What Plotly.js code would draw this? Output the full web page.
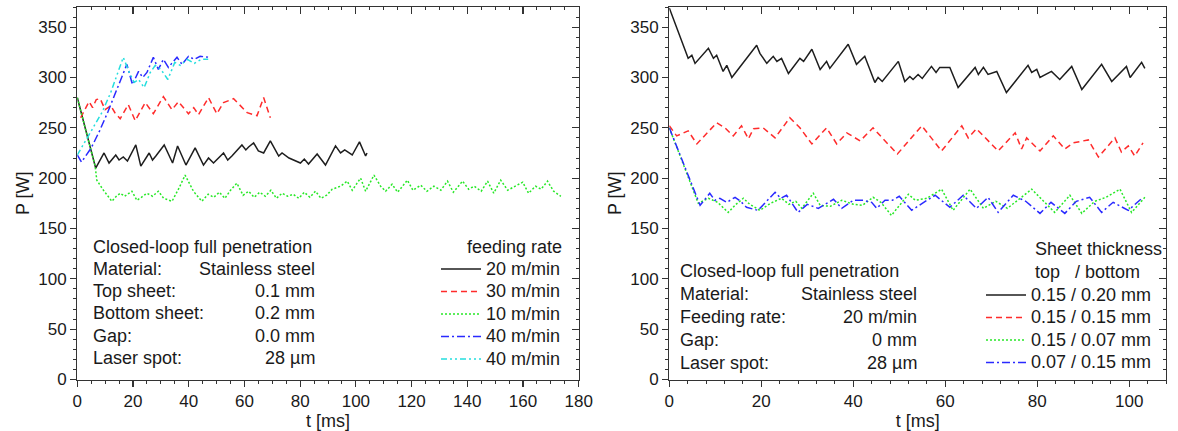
<!DOCTYPE html>
<html><head><meta charset="utf-8">
<script src="https://cdn.plot.ly/plotly-3.0.1.min.js"></script>
<style>html,body{margin:0;padding:0;background:#fff}#chart{width:1178px;height:431px}</style>
</head><body><div id="chart"></div>
<script>
// ---------- Left panel: feeding rate series ----------
const t20 = [0, 6.6, 9.6, 11.4, 13.8, 15, 16.5, 18, 21, 22.8, 25.8, 27, 28.2, 31.2, 34.2, 36, 39, 40.8, 42.3, 45.3, 47.1, 48.9, 50.5, 52.5, 54, 55.5, 59.1, 60.5, 61.5, 63.3, 65, 66.9, 69.3, 72.3, 73.5, 76, 80.1, 81.5, 83, 86.1, 89.1, 92.7, 94.5, 96, 98.7, 101.3, 103.5, 104];
const p20 = [280, 210, 225, 215, 223, 218, 221, 217, 233, 212, 225, 218, 222, 233, 215, 232, 213, 222, 230, 213, 220, 215, 219, 225, 218, 222, 233, 228, 231, 235, 227, 225, 237, 222, 225, 220, 215, 219, 214, 224, 213, 232, 225, 228, 223, 236, 222, 225];

const t30 = [1.2, 4.2, 5.5, 6.8, 8.2, 10, 12, 13.5, 15.4, 18.3, 20.8, 24.4, 27.3, 30.9, 34, 36.3, 39.9, 41.8, 43.5, 47.1, 50.1, 52.5, 56.1, 58.5, 61, 64.5, 66.9, 69.3];
const p30 = [260, 276, 270, 278, 279, 268, 272, 265, 259, 273, 257, 275, 264, 281, 268, 276, 264, 270, 263, 280, 264, 275, 279, 272, 265, 262, 280, 260];

const t10 = [0, 6.4, 7, 9.4, 12.4, 14, 15.4, 17, 19.6, 21.4, 23, 25, 27, 29.1, 31, 34, 36.5, 38.7, 41.7, 44.7, 47, 49, 51, 53, 55, 57.3, 59.5, 61.5, 63.5, 65.5, 67.5, 69.5, 71.5, 73.5, 75.5, 77.5, 79.5, 81.5, 83.5, 85.5, 87.5, 89.5, 91.5, 94.5, 96.9, 98.7, 101.7, 103.5, 106.5, 108.9, 110.7, 113, 115, 118.5, 120.5, 123.3, 125.5, 128, 130.5, 132.9, 135, 138.3, 140.5, 142.5, 145, 147.3, 149.5, 152, 154.5, 156.5, 159.9, 162, 164.5, 166.5, 168.8, 171, 173.6];
const p10 = [280, 212, 198, 188, 177, 182, 185, 182, 187, 178, 181, 185, 182, 187, 180, 177, 190, 203, 187, 177, 184, 181, 186, 180, 188, 195, 183, 187, 181, 186, 182, 188, 180, 185, 182, 184, 180, 186, 181, 187, 180, 183, 189, 192, 197, 188, 200, 187, 203, 192, 187, 194, 186, 198, 188, 193, 187, 192, 188, 197, 186, 197, 189, 192, 187, 197, 185, 198, 188, 191, 196, 185, 192, 189, 197, 187, 182];

const t40a = [0, 1.5, 5, 8, 11, 14, 17.8, 19.8, 22, 23.5, 25, 27.3, 29.1, 30.9, 32.7, 35.8, 37.6, 39.9, 42, 44.1, 47.7];
const p40a = [223, 216, 230, 247, 266, 286, 313, 293, 306, 300, 305, 320, 308, 318, 310, 320, 313, 321, 318, 321, 320];

const t40b = [0, 3, 6, 9, 12, 16.5, 18.5, 20.4, 22, 24, 26.2, 28, 30, 32.5, 35, 37, 39.5, 42, 44.5, 47];
const p40b = [223, 237, 252, 266, 285, 320, 306, 295, 298, 290, 305, 312, 308, 298, 315, 312, 318, 314, 318, 318];

const leftNames = ['20 m/min', '30 m/min', '10 m/min', '40 m/min', '40 m/min'];

// ---------- Right panel: sheet thickness series ----------
const tA = [0, 4.1, 4.9, 5.6, 8.5, 9.6, 10.3, 11.7, 12.5, 13.6, 19, 19.7, 21.2, 22.6, 23.4, 24.4, 25.9, 28.4, 29.2, 31, 32.8, 34.2, 34.9, 38.9, 40.7, 42.5, 44.7, 45.4, 46.3, 49.8, 51.2, 52.3, 53, 54.1, 55, 57, 58, 58.8, 61, 62.8, 66.5, 67.2, 68.3, 69.3, 71.2, 73.3, 78, 78.8, 79.9, 80.6, 83.1, 84.9, 87.5, 89.7, 94, 96.2, 99.4, 100.2, 102.7, 103.4];
const pA = [369, 319, 322, 314, 329, 319, 322, 306, 312, 300, 332, 324, 314, 321, 316, 319, 304, 319, 316, 328, 308, 316, 309, 333, 313, 321, 295, 300, 296, 316, 296, 301, 298, 303, 299, 311, 305, 310, 310, 290, 310, 303, 310, 303, 306, 285, 312, 305, 308, 300, 306, 298, 311, 288, 313, 296, 311, 300, 315, 309];

const tB = [0, 1.6, 4.1, 6, 10.3, 12.1, 13.9, 15.7, 17.2, 18.3, 20.4, 23, 26.2, 28.4, 31, 34.2, 36.4, 38.6, 41.5, 44.3, 46.5, 49.6, 54.9, 59.2, 63.6, 65, 66.8, 71.5, 75.2, 76.6, 77.7, 80.6, 83.5, 86, 87.8, 91.1, 93.3, 96.9, 98.3, 99.8, 101.2, 103];
const pB = [252, 242, 247, 234, 255, 250, 242, 252, 239, 249, 250, 240, 260, 250, 234, 250, 234, 245, 237, 250, 239, 224, 252, 227, 252, 240, 249, 227, 245, 229, 240, 227, 242, 229, 235, 238, 221, 240, 226, 232, 222, 235];

const tC = [0, 6.3, 8.5, 10.5, 12.8, 14.5, 16.1, 17.5, 19.7, 22, 24.4, 26, 27.5, 28.8, 31.3, 32.8, 35, 37.5, 40, 42, 44.3, 46, 48.3, 52, 53.5, 56, 59.2, 61.7, 65.4, 68.3, 71, 73.5, 78.8, 81.5, 83.8, 87.1, 89.7, 92.5, 95, 98, 100.5, 103.4];
const pC = [250, 175, 180, 176, 166, 174, 180, 174, 168, 175, 180, 174, 177, 170, 185, 173, 172, 178, 174, 173, 181, 176, 163, 184, 178, 180, 189, 168, 189, 170, 177, 170, 189, 176, 166, 183, 165, 177, 181, 189, 166, 181];

const tD = [0, 6.7, 8.8, 9.9, 11, 12.5, 14.3, 15.5, 16.8, 19.3, 23, 24.2, 25.5, 28, 30, 32.4, 35.7, 37.5, 40, 42.2, 44, 45.1, 46.9, 48.5, 50, 52.7, 55, 57.8, 61, 63.9, 66.8, 69.3, 71.5, 74.8, 77.5, 80.6, 83, 86, 88.5, 91.4, 94, 96.5, 99.8, 103];
const pD = [250, 173, 185, 178, 180, 176, 181, 177, 171, 168, 186, 180, 183, 166, 174, 170, 179, 170, 178, 178, 176, 170, 178, 178, 182, 168, 175, 183, 171, 183, 170, 181, 166, 183, 177, 165, 176, 165, 177, 181, 166, 176, 168, 181];

const rightNames = ['0.15 / 0.20 mm', '0.15 / 0.15 mm', '0.15 / 0.07 mm', '0.07 / 0.15 mm'];

const xTicksLeft = [0, 20, 40, 60, 80, 100, 120, 140, 160, 180];
const xTicksRight = [0, 20, 40, 60, 80, 100];
const yTicks = [0, 50, 100, 150, 200, 250, 300, 350];

// ---------- styling ----------
const C = {black:'#1e1e1e', red:'#ff2b2b', green:'#27e827', blue:'#2a2aff', cyan:'#25dede'};
const FONT = 'Liberation Sans, Arial, sans-serif';
const TXT = '#1a1a1a';
const W = 1178, H = 431;
const px = v => v / W, py = v => 1 - v / H;
const big = s => '<span style="font-size:18px">' + s + '</span>';

function tr(x, y, name, color, dash, xa, ya, leg) {
  return {x, y, name: big(name), type:'scatter', mode:'lines', xaxis:xa, yaxis:ya, legend:leg,
          line:{color, width:1.5, dash}, hoverinfo:'skip'};
}
// the last series of each panel sits on the mirrored (top/right) axes, which share the same ranges
const data = [
  tr(t20, p20, leftNames[0], C.black, 'solid', 'x', 'y', 'legend'),
  tr(t30, p30, leftNames[1], C.red, '6px,4px', 'x', 'y', 'legend'),
  tr(t10, p10, leftNames[2], C.green, '2px,2px', 'x', 'y', 'legend'),
  tr(t40a, p40a, leftNames[3], C.blue, '8px,3px,2px,3px', 'x', 'y', 'legend'),
  tr(t40b, p40b, leftNames[4], C.cyan, '6px,3px,2px,3px,2px,3px', 'x3', 'y3', 'legend'),
  tr(tA, pA, rightNames[0], C.black, 'solid', 'x2', 'y2', 'legend2'),
  tr(tB, pB, rightNames[1], C.red, '6px,4px', 'x2', 'y2', 'legend2'),
  tr(tC, pC, rightNames[2], C.green, '2px,2px', 'x2', 'y2', 'legend2'),
  tr(tD, pD, rightNames[3], C.blue, '8px,3px,2px,3px', 'x4', 'y4', 'legend2')
];

const AX = '#333';
const tickFont = {family: FONT, size: 17, color: TXT};
function mainX(dom, range, ticks, minorD, anchor) {
  return {domain: dom, range, anchor, tickvals: ticks, ticktext: ticks.map(String),
    ticks:'outside', ticklen:6, tickwidth:1.2, tickcolor:AX,
    minor:{dtick:minorD, tick0:0, ticks:'outside', ticklen:3, tickwidth:1, tickcolor:AX},
    showline:true, linecolor:AX, linewidth:1.3, showgrid:false, zeroline:false,
    tickfont: tickFont,
    title:{text:'t [ms]', font:{family:FONT, size:18, color:TXT}, standoff:2}};
}
function mainY(dom, anchor) {
  return {domain: dom, range:[0, 370], anchor, tickvals: yTicks, ticktext: yTicks.map(String),
    ticks:'outside', ticklen:6, tickwidth:1.2, tickcolor:AX,
    minor:{dtick:10, tick0:0, ticks:'outside', ticklen:3, tickwidth:1, tickcolor:AX},
    showline:true, linecolor:AX, linewidth:1.3, showgrid:false, zeroline:false,
    tickfont: tickFont,
    title:{text:'P [W]', font:{family:FONT, size:18, color:TXT}, standoff:4}};
}
function mirX(dom, range, ticks, minorD, overlay, anchor) {
  return {domain: dom, range, overlaying: overlay, anchor, side:'top', tickvals: ticks,
    ticks:'inside', ticklen:7, tickwidth:1.2, tickcolor:AX, showticklabels:false,
    minor:{dtick:minorD, tick0:0, ticks:'inside', ticklen:3, tickwidth:1, tickcolor:AX},
    showline:true, linecolor:AX, linewidth:1.3, showgrid:false, zeroline:false};
}
function mirY(dom, overlay, anchor) {
  return {domain: dom, range:[0, 370], overlaying: overlay, anchor, side:'right', tickvals: yTicks,
    ticks:'inside', ticklen:7, tickwidth:1.2, tickcolor:AX, showticklabels:false,
    minor:{dtick:10, tick0:0, ticks:'inside', ticklen:3, tickwidth:1, tickcolor:AX},
    showline:true, linecolor:AX, linewidth:1.3, showgrid:false, zeroline:false};
}

const domL = [px(77.3), px(578.7)];
const domR = [px(669.3), px(1166)];
const domY = [1 - 379.5 / H, 1 - 7 / H];

function ann(x, y, text, anchor) {
  return {xref:'paper', yref:'paper', x: px(x), y: py(y), text, showarrow:false,
    xanchor: anchor, yanchor:'middle', font:{family:FONT, size:18, color:TXT}};
}
const annotations = [
  ann(90.7, 246.7, 'Closed-loop full penetration', 'left'),
  ann(90.7, 269, 'Material:', 'left'),
  ann(90.7, 291, 'Top sheet:', 'left'),
  ann(90.7, 313, 'Bottom sheet:', 'left'),
  ann(90.7, 335.7, 'Gap:', 'left'),
  ann(90.7, 357.7, 'Laser spot:', 'left'),
  ann(317, 269, 'Stainless steel', 'right'),
  ann(317, 291, '0.1 mm', 'right'),
  ann(317, 313, '0.2 mm', 'right'),
  ann(317, 335.7, '0.0 mm', 'right'),
  ann(317, 357.7, '28 µm', 'right'),
  ann(564, 246.7, 'feeding rate', 'right'),
  ann(678.3, 271, 'Closed-loop full penetration', 'left'),
  ann(678.3, 294, 'Material:', 'left'),
  ann(678.3, 316.7, 'Feeding rate:', 'left'),
  ann(678.3, 340, 'Gap:', 'left'),
  ann(678.3, 362.7, 'Laser spot:', 'left'),
  ann(919, 294, 'Stainless steel', 'right'),
  ann(919, 316.7, '20 m/min', 'right'),
  ann(919, 340, '0 mm', 'right'),
  ann(919, 362.7, '28 µm', 'right'),
  ann(1032.7, 249.3, 'Sheet thickness', 'left'),
  ann(1032.7, 271.7, 'top\u00a0\u00a0\u00a0/ bottom', 'left')
];

const legBase = {bgcolor:'rgba(0,0,0,0)', borderwidth:0, xanchor:'left', yanchor:'top',
  font:{family:FONT, size:15, color:TXT}, itemwidth:40, tracegroupgap:0, traceorder:'normal'};

const layout = {
  width: W, height: H, margin:{l:0, r:0, t:0, b:0},
  paper_bgcolor:'#fff', plot_bgcolor:'rgba(0,0,0,0)',
  font:{family:FONT, color:TXT},
  showlegend:true,
  xaxis: mainX(domL, [0, 180], xTicksLeft, 5, 'y'),
  yaxis: mainY(domY, 'x'),
  xaxis2: mainX(domR, [0, 108], xTicksRight, 4, 'y2'),
  yaxis2: mainY(domY, 'x2'),
  xaxis3: mirX(domL, [0, 180], xTicksLeft, 5, 'x', 'y3'),
  yaxis3: mirY(domY, 'y', 'x3'),
  xaxis4: mirX(domR, [0, 108], xTicksRight, 4, 'x2', 'y4'),
  yaxis4: mirY(domY, 'y2', 'x4'),
  legend: Object.assign({}, legBase, {x: px(436), y: py(252.7)}),
  legend2: Object.assign({}, legBase, {x: px(981), y: py(278.7)}),
  annotations
};

Plotly.newPlot('chart', data, layout, {staticPlot:true, displayModeBar:false});
</script>
</body></html>
